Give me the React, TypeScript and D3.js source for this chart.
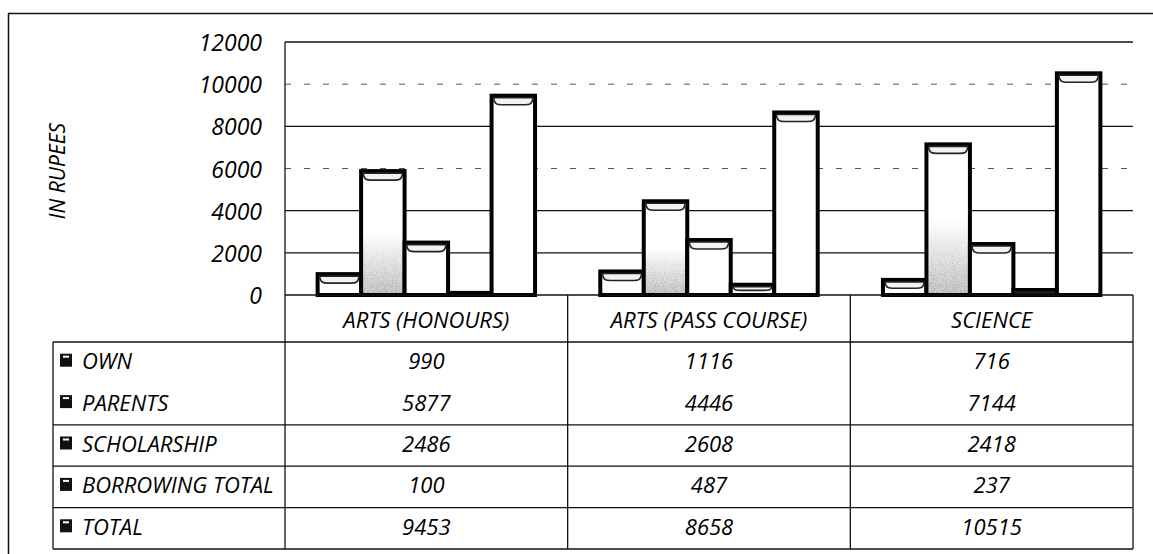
import React from "react";
import * as d3 from "d3";

// Average annual expenditure sources by course stream (in rupees)
const categories = ["ARTS (HONOURS)", "ARTS (PASS COURSE)", "SCIENCE"];
const seriesNames = ["OWN", "PARENTS", "SCHOLARSHIP", "BORROWING TOTAL", "TOTAL"];
const own = [990, 1116, 716];
const parents = [5877, 4446, 7144];
const scholarship = [2486, 2608, 2418];
const borrowingTotal = [100, 487, 237];
const total = [9453, 8658, 10515];
const yTicks = [0, 2000, 4000, 6000, 8000, 10000, 12000];
const dashedTicks = [6000, 10000];

const seriesValues = [own, parents, scholarship, borrowingTotal, total];

const W = 1153;
const H = 554;
const FONT = "'Open Sans', 'DejaVu Sans', sans-serif";

export default function App() {
  const plotLeft = 285;
  const plotRight = 1133;
  const plotTop = 42;
  const plotBottom = 295;
  const legendLeft = 53;
  const tableTop = 342;
  const rowH = 41.4;

  const y = d3.scaleLinear().domain([0, 12000]).range([plotBottom, plotTop]);
  const x0 = d3.scaleBand<string>().domain(categories).range([plotLeft, plotRight]).paddingInner(0).paddingOuter(0);
  const x1 = d3
    .scaleBand<string>()
    .domain(seriesNames)
    .range([0, x0.bandwidth()])
    .paddingInner(0)
    .paddingOuter(0.75);

  const bars: { key: string; x: number; w: number; top: number; h: number; series: number }[] = [];
  categories.forEach((c, ci) => {
    seriesNames.forEach((s, si) => {
      const v = seriesValues[si][ci];
      const bx = (x0(c) as number) + (x1(s) as number);
      const top = y(v);
      bars.push({ key: `${c}-${s}`, x: bx, w: x1.bandwidth(), top, h: plotBottom - top, series: si });
    });
  });

  const colEdges = [...categories.map((c) => x0(c) as number), plotRight];
  const rowLines = [tableTop, tableTop + rowH * 2, tableTop + rowH * 3, tableTop + rowH * 4, tableTop + rowH * 5];

  const bevel = (b: { x: number; w: number; top: number; h: number }) => {
    const d = Math.min(9, Math.max(0, b.h * 0.55));
    if (d < 2) return null;
    const { x, w, top } = b;
    return `M${x + 2},${top + 2} C${x + 3},${top + d} ${x + 6},${top + d} ${x + 10},${top + d} L${x + w - 10},${top + d} C${x + w - 6},${top + d} ${x + w - 3},${top + d} ${x + w - 2},${top + 2} Z`;
  };

  const textFill = "#000";

  return (
    <svg
      width={W}
      height={H}
      style={{ position: "absolute", left: 0, top: 0, background: "#fff" }}
      fontFamily={FONT}
    >
      <defs>
        <linearGradient id="stipple" x1="0" y1="1" x2="0" y2="0">
          <stop offset="0" stopColor="#c9c9c9" />
          <stop offset="0.22" stopColor="#e2e2e2" />
          <stop offset="0.5" stopColor="#ffffff" />
        </linearGradient>
        <filter id="grain" x="0" y="0" width="1" height="1">
          <feTurbulence type="fractalNoise" baseFrequency="0.9" numOctaves="1" seed="3" result="n" />
          <feColorMatrix
            in="n"
            type="matrix"
            values="0 0 0 0 0  0 0 0 0 0  0 0 0 0 0  0 0 0 -2.6 1.35"
            result="dots"
          />
          <feColorMatrix
            in="SourceGraphic"
            type="matrix"
            values="0 0 0 0 0  0 0 0 0 0  0 0 0 0 0  -1.6 0 0 0 1.6"
            result="mask"
          />
          <feComposite in="dots" in2="mask" operator="in" result="d2" />
          <feMerge>
            <feMergeNode in="SourceGraphic" />
            <feMergeNode in="d2" />
          </feMerge>
        </filter>
      </defs>

      {/* outer frame */}
      <line x1={8} y1={13.5} x2={W} y2={13.5} stroke="#111" strokeWidth={1.5} />
      <line x1={8.5} y1={13} x2={8.5} y2={H} stroke="#111" strokeWidth={1.5} />

      {/* gridlines */}
      {yTicks
        .filter((t) => t > 0)
        .map((t) => (
          <line
            key={`g${t}`}
            x1={plotLeft}
            x2={plotRight}
            y1={y(t)}
            y2={y(t)}
            stroke={dashedTicks.includes(t) ? "#555" : "#111"}
            strokeWidth={dashedTicks.includes(t) ? 1 : 1.4}
            strokeDasharray={dashedTicks.includes(t) ? "6 13" : undefined}
          />
        ))}
      <line x1={plotLeft} x2={plotLeft} y1={plotTop} y2={plotBottom} stroke="#111" strokeWidth={1.3} />

      {/* y axis labels */}
      {yTicks.map((t) => (
        <text
          key={`yl${t}`}
          x={262}
          y={y(t)}
          textAnchor="end"
          dominantBaseline="central"
          fontSize={23}
          fontStyle="italic"
          fill={textFill}
        >
          {t}
        </text>
      ))}
      <text
        transform={`translate(57,171) rotate(-90)`}
        textAnchor="middle"
        dominantBaseline="central"
        fontSize={21}
        fontStyle="italic"
        fill={textFill}
      >
        IN RUPEES
      </text>

      {/* bars */}
      {bars.map((b) => (
        <g key={b.key}>
          <rect
            x={b.x}
            y={b.top}
            width={b.w}
            height={b.h}
            fill={b.series === 1 ? "url(#stipple)" : "#fff"}
            filter={b.series === 1 ? "url(#grain)" : undefined}
          />
          <rect x={b.x} y={b.top} width={b.w} height={b.h} fill="none" stroke="#000" strokeWidth={4} />
          {bevel(b) && <path d={bevel(b) as string} fill="#f2f2f2" stroke="#222" strokeWidth={1.6} />}
        </g>
      ))}

      {/* baseline */}
      <line x1={plotLeft} x2={plotRight} y1={plotBottom} y2={plotBottom} stroke="#111" strokeWidth={1.6} />

      {/* data table */}
      {colEdges.map((cx, i) => (
        <line key={`cv${i}`} x1={cx} x2={cx} y1={plotBottom} y2={rowLines[rowLines.length - 1]} stroke="#111" strokeWidth={1.3} />
      ))}
      <line x1={legendLeft} x2={legendLeft} y1={tableTop} y2={rowLines[rowLines.length - 1]} stroke="#111" strokeWidth={1.3} />
      {rowLines.map((ry, i) => (
        <line key={`rh${i}`} x1={legendLeft} x2={plotRight} y1={ry} y2={ry} stroke="#111" strokeWidth={1.3} />
      ))}

      {categories.map((c) => (
        <text
          key={`cat${c}`}
          x={(x0(c) as number) + x0.bandwidth() / 2}
          y={(plotBottom + tableTop) / 2}
          textAnchor="middle"
          dominantBaseline="central"
          fontSize={22}
          fontStyle="italic"
          fill={textFill}
        >
          {c}
        </text>
      ))}

      {seriesNames.map((s, si) => {
        const cy = tableTop + rowH * si + rowH / 2 - 2.5;
        return (
          <g key={`row${s}`}>
            <rect x={60} y={cy - 6.5} width={12} height={13} fill="#111" />
            <rect x={63} y={cy - 4.5} width={6} height={2} fill="#fff" />
            <text x={82} y={cy} dominantBaseline="central" fontSize={22} fontStyle="italic" fill={textFill}>
              {s}
            </text>
            {categories.map((c, ci) => (
              <text
                key={`v${s}${c}`}
                x={(x0(c) as number) + x0.bandwidth() / 2}
                y={cy}
                textAnchor="middle"
                dominantBaseline="central"
                fontSize={22}
                fontStyle="italic"
                fill={textFill}
              >
                {seriesValues[si][ci]}
              </text>
            ))}
          </g>
        );
      })}
    </svg>
  );
}
